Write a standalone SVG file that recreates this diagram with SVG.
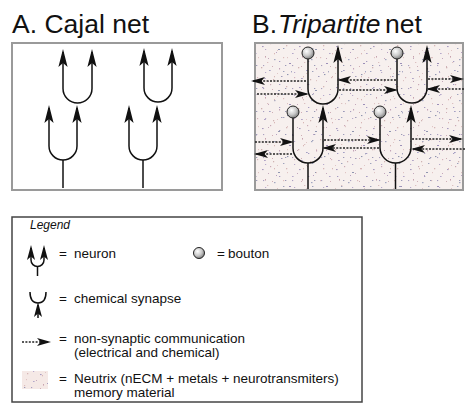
<svg xmlns="http://www.w3.org/2000/svg" width="474" height="416" viewBox="0 0 474 416">
<style>
.t{font-family:"Liberation Sans",Arial,Helvetica,sans-serif;fill:#111}
.title{font-size:26.5px}
.lg{font-size:13.5px}
.n{fill:none;stroke:#111;stroke-width:1.5}
.d{fill:none;stroke:#222;stroke-width:1.3;stroke-dasharray:2 1.4}
.box{fill:none;stroke:#9a9a9a;stroke-width:2}
.bt{stroke:#222;stroke-width:1;fill:url(#gb)}
</style>
<defs>
<marker id="ah" viewBox="0 -5 18 10" markerWidth="18" markerHeight="10" refX="15" refY="0" markerUnits="userSpaceOnUse" orient="auto-start-reverse">
<path d="M0,-4.6 L18,0 L0,4.6 L4,0 Z" fill="#111"/>
</marker>
<marker id="ahs" viewBox="0 -4.5 15 9" markerWidth="15" markerHeight="9" refX="12" refY="0" markerUnits="userSpaceOnUse" orient="auto-start-reverse">
<path d="M0,-4 L15,0 L0,4 L3.5,0 Z" fill="#111"/>
</marker>
<marker id="dh" viewBox="0 -4.5 14 9" markerWidth="14" markerHeight="9" refX="12" refY="0" markerUnits="userSpaceOnUse" orient="auto">
<path d="M0,-4 L14,0 L0,4 L3.5,0 Z" fill="#111"/>
</marker>
<radialGradient id="gb" cx="0.38" cy="0.35" r="0.7">
<stop offset="0" stop-color="#ffffff"/>
<stop offset="0.55" stop-color="#c8c8c8"/>
<stop offset="1" stop-color="#777"/>
</radialGradient>
<pattern id="pa" width="37" height="41" patternUnits="userSpaceOnUse">
<rect x="3" y="5" width="1.6" height="1.1" fill="#a99bc0"/>
<rect x="11" y="2" width="1.2" height="1.2" fill="#c9a9b5"/>
<rect x="19" y="8" width="2" height="1" fill="#9096b0"/>
<rect x="27" y="4" width="1.3" height="1.3" fill="#d6b6b6"/>
<rect x="33" y="12" width="1.6" height="1" fill="#b3a7c9"/>
<rect x="6" y="15" width="1" height="1.6" fill="#c7a2ae"/>
<rect x="15" y="18" width="1.5" height="1.2" fill="#a2a6c0"/>
<rect x="24" y="16" width="1.2" height="1.2" fill="#dcbcbc"/>
<rect x="30" y="22" width="2" height="1" fill="#9c8fb8"/>
<rect x="2" y="26" width="1.3" height="1.3" fill="#cdb0b0"/>
<rect x="10" y="29" width="1.7" height="1" fill="#a4a0c4"/>
<rect x="20" y="27" width="1.1" height="1.5" fill="#c3a3b8"/>
<rect x="28" y="33" width="1.4" height="1.1" fill="#8f94ae"/>
<rect x="35" y="36" width="1.2" height="1.2" fill="#d4b4bc"/>
<rect x="5" y="37" width="1.8" height="1" fill="#b1a4c6"/>
<rect x="14" y="38" width="1.2" height="1.3" fill="#cfb3b3"/>
<rect x="22" y="35" width="1.5" height="1" fill="#a09ab9"/>
<rect x="17" y="11" width="1" height="1" fill="#b9a2c2"/>
<rect x="8" y="21" width="1.3" height="1" fill="#dbc0c0"/>
<rect x="32" y="30" width="1" height="1.4" fill="#a8a8c2"/>
</pattern>
<pattern id="pb" width="29" height="23" patternUnits="userSpaceOnUse">
<rect x="4" y="3" width="1.2" height="1" fill="#b8a9cc"/>
<rect x="13" y="7" width="1" height="1.3" fill="#d8b6b6"/>
<rect x="22" y="2" width="1.4" height="1" fill="#9ea2bc"/>
<rect x="7" y="12" width="1" height="1" fill="#c4a8bc"/>
<rect x="18" y="15" width="1.3" height="1" fill="#a69cc2"/>
<rect x="26" y="11" width="1" height="1.2" fill="#dfc4c4"/>
<rect x="2" y="19" width="1.2" height="1.1" fill="#aaa0c0"/>
<rect x="11" y="20" width="1" height="1" fill="#cfaeb6"/>
<rect x="24" y="19" width="1.3" height="1" fill="#9b9ab6"/>
<rect x="16" y="4" width="1" height="1" fill="#e0c6c6"/>
</pattern>
</defs>
<rect width="474" height="416" fill="#ffffff"/>

<g id="titleA"><text class="t title" x="12" y="33">A. Cajal net</text></g>
<g id="titleB"><text class="t title" x="252" y="33">B.<tspan x="278" font-style="italic">Tripartite</tspan><tspan x="385">net</tspan></text></g>

<g id="panelA">
<rect class="box" x="12" y="43" width="210" height="147"/>
</g>
<g id="panelB">
<rect x="255" y="43" width="208" height="147" fill="#f7f0ee"/>
<rect x="255" y="43" width="208" height="147" fill="url(#pa)"/>
<rect x="255" y="43" width="208" height="147" fill="url(#pb)"/>
<rect class="box" x="255" y="43" width="208" height="147"/>
</g>

<g id="neuronA1"><path class="n" d="M63,52 V88.5 A14.5,14.5 0 0 0 92,88.5 V52" marker-start="url(#ah)" marker-end="url(#ah)"/></g>
<g id="neuronA2"><path class="n" d="M144,51 V88 A14,14 0 0 0 172,88 V51" marker-start="url(#ah)" marker-end="url(#ah)"/></g>
<g id="neuronA3"><path class="n" d="M49,108 V146 A14,14 0 0 0 77,146 V108" marker-start="url(#ah)" marker-end="url(#ah)"/><path class="n" d="M63,160 V188"/></g>
<g id="neuronA4"><path class="n" d="M129,108 V146 A14,14 0 0 0 157,146 V108" marker-start="url(#ah)" marker-end="url(#ah)"/><path class="n" d="M143,160 V188"/></g>

<g id="connectors">
<path class="d" d="M306,81 H253" marker-end="url(#dh)"/>
<path class="d" d="M257,94 H307" marker-end="url(#dh)"/>
<path class="d" d="M396,80 H339" marker-end="url(#dh)"/>
<path class="d" d="M339,90 H396" marker-end="url(#dh)"/>
<path class="d" d="M428,79 H462" marker-end="url(#dh)"/>
<path class="d" d="M464,89 H428" marker-end="url(#dh)"/>
<path class="d" d="M255,142 H292" marker-end="url(#dh)"/>
<path class="d" d="M292,154 H256" marker-end="url(#dh)"/>
<path class="d" d="M324,140 H379" marker-end="url(#dh)"/>
<path class="d" d="M379,148 H324" marker-end="url(#dh)"/>
<path class="d" d="M412,139 H461" marker-end="url(#dh)"/>
<path class="d" d="M465,149 H413" marker-end="url(#dh)"/>
</g>

<g id="neuronB1"><path class="n" d="M308,59 V89 A15,15 0 0 0 338,89 V48" marker-end="url(#ah)"/><circle class="bt" cx="308" cy="53" r="6"/></g>
<g id="neuronB2"><path class="n" d="M397,59 V88 A15,15 0 0 0 427,88 V48" marker-end="url(#ah)"/><circle class="bt" cx="397" cy="53" r="6"/></g>
<g id="neuronB3"><path class="n" d="M293,118 V148 A15,15 0 0 0 323,148 V108" marker-end="url(#ah)"/><path class="n" d="M308,163 V189"/><circle class="bt" cx="293" cy="112" r="6"/></g>
<g id="neuronB4"><path class="n" d="M380,118 V147.5 A15.5,15.5 0 0 0 411,147.5 V108" marker-end="url(#ah)"/><path class="n" d="M395.5,163 V189"/><circle class="bt" cx="380" cy="112" r="6"/></g>

<g id="legend">
<rect x="12" y="217" width="350" height="185" fill="none" stroke="#444" stroke-width="1.5"/>
<text class="t" x="30" y="229" font-size="12" font-style="italic">Legend</text>
<path class="n" d="M31,248 V260 A6.5,6.5 0 0 0 44,260 V248" marker-start="url(#ahs)" marker-end="url(#ahs)"/>
<path class="n" d="M37.5,266.5 V276"/>
<text class="t lg" x="59" y="258">=</text>
<text class="t lg" x="74" y="258">neuron</text>
<circle class="bt" cx="199" cy="253" r="5.5"/>
<text class="t lg" x="217" y="258">=</text>
<text class="t lg" x="228" y="258">bouton</text>
<path class="n" d="M30,292 Q30,303 38,303 Q46,303 46,292"/>
<path class="n" d="M38,318 V305" marker-end="url(#ahs)"/>
<text class="t lg" x="59" y="303">=</text>
<text class="t lg" x="74" y="303">chemical synapse</text>
<path class="d" d="M22,342 H49" marker-end="url(#dh)"/>
<text class="t lg" x="59" y="343">=</text>
<text class="t lg" x="74" y="343">non-synaptic communication</text>
<text class="t lg" x="74" y="357">(electrical and chemical)</text>
<rect x="22" y="371" width="26" height="18" fill="#f5e9e6"/>
<rect x="22" y="371" width="26" height="18" fill="url(#pa)"/>
<rect x="22" y="371" width="26" height="18" fill="url(#pb)"/>
<text class="t lg" x="59" y="383">=</text>
<text class="t lg" x="74" y="383">Neutrix (nECM + metals + neurotransmiters)</text>
<text class="t lg" x="74" y="397">memory material</text>
</g>
</svg>
